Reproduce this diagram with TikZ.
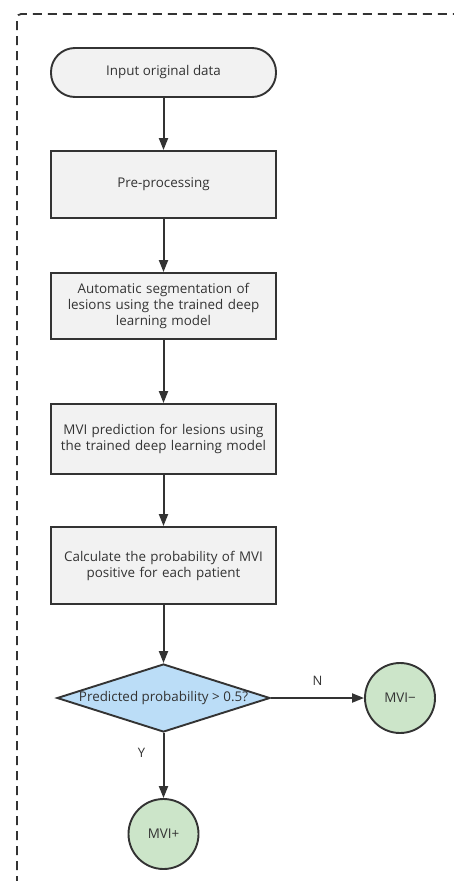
\documentclass[tikz,border=0pt]{standalone}
\usepackage{fontspec}
\setmainfont{Open Sans}
\usetikzlibrary{shapes.geometric,arrows.meta}
\definecolor{ink}{HTML}{333333}
\definecolor{boxfill}{HTML}{F2F2F2}
\definecolor{dfill}{HTML}{BBDDF7}
\definecolor{cfill}{HTML}{CCE5C9}
\tikzset{
  proc/.style={draw=ink, line width=1.9pt, fill=boxfill, minimum width=225pt, align=center, text width=222pt, inner sep=0pt},
  term/.style={draw=ink, line width=1.9pt, fill=boxfill, rounded corners=24pt, minimum width=225pt, minimum height=49pt},
  dec/.style={draw=ink, line width=1.9pt, fill=dfill, diamond, aspect=3.13, minimum width=213pt, minimum height=68pt, inner sep=0pt},
  endc/.style={draw=ink, line width=1.9pt, fill=cfill, circle, minimum size=70pt, inner sep=0pt},
  arr/.style={draw=ink, line width=2pt, -{Triangle[length=12pt,width=9pt]}},
  lbl/.style={font=\fontsize{13}{15}\selectfont}
}
\begin{document}
\begin{tikzpicture}[x=1pt,y=-1pt, font=\fontsize{13.4}{16}\selectfont, text=ink]
\useasboundingbox (0,0) rectangle (453,881);
\draw[draw=ink, dash pattern=on 9pt off 6pt, line width=1.8pt, rounded corners=4pt] (17,885) -- (17,14) -- (458,14);
\node[term] (start) at (163.5,72.5) {Input original data};
\node[proc, minimum height=67pt] (pre) at (163.5,184.5) {Pre-processing};
\node[proc, minimum height=66pt] (seg) at (163.5,306) {Automatic segmentation of\\lesions using the trained deep\\learning model};
\node[proc, minimum height=70pt] (pred) at (163.5,439) {MVI prediction for lesions using\\the trained deep learning model};
\node[proc, minimum height=77pt] (calc) at (163.5,565.5) {Calculate the probability of MVI\\positive for each patient};
\node[dec, label={center:Predicted probability > 0.5?}] (dec) at (163.5,698) {};
\node[endc] (neg) at (400,698) {MVI−};
\node[endc] (pos) at (163.5,834) {MVI+};
\draw[arr] (start) -- (pre);
\draw[arr] (pre) -- (seg);
\draw[arr] (seg) -- (pred);
\draw[arr] (pred) -- (calc);
\draw[arr] (calc) -- (dec);
\draw[arr] (dec) -- node[lbl, above=8pt] {N} (neg);
\draw[arr] (dec) -- node[lbl, left=14pt, pos=0.3] {Y} (pos);
\end{tikzpicture}
\end{document}
